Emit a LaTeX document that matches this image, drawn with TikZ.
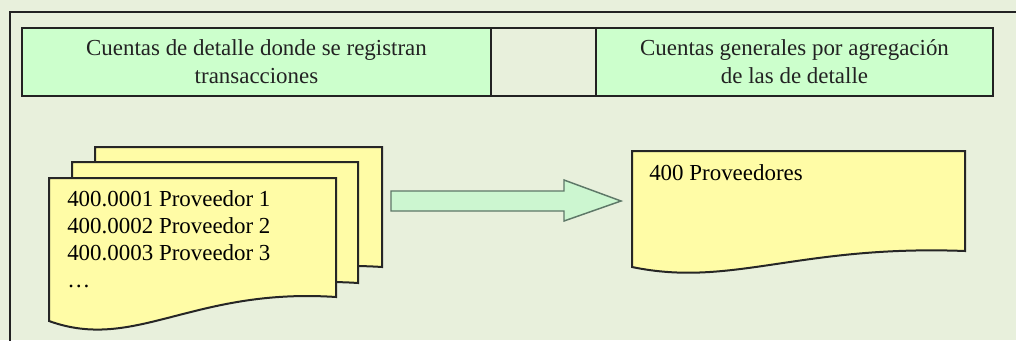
\documentclass[tikz,border=0pt]{standalone}
\usepackage{fontspec}
\setmainfont{Liberation Serif}
\definecolor{bg}{HTML}{E8F0DC}
\definecolor{cellgreen}{HTML}{CCFFCC}
\definecolor{docyellow}{HTML}{FFFCA6}
\definecolor{arrowfill}{HTML}{CCF6D0}
\definecolor{arrowline}{HTML}{5E7868}
\definecolor{ink}{HTML}{222222}
\newcommand\docshape[5]{%
  \filldraw[docstyle] (#1,#2) -- (#3,#2) -- (#3,#4)
    .. controls ({#1+0.5*(#3-#1)},{#4-0.4*#5}) and ({#1+0.3*(#3-#1)},{#4+2.3*#5}) ..
    (#1,{#4+#5}) -- cycle;}
\begin{document}
\begin{tikzpicture}[x=0.75pt,y=-0.75pt,
  frame/.style={draw=ink,line width=1.5pt},
  cell/.style={draw=ink,line width=1.5pt,inner sep=0pt,align=center,text=ink,
    font=\fontsize{17.2}{21}\selectfont,minimum height=68*0.75pt},
  docstyle/.style={fill=docyellow,draw=black!85,line width=1.5pt,line join=miter},
  doctext/.style={anchor=base west,inner sep=0pt,align=left,
    font=\fontsize{17.2}{20.25}\selectfont},
  blockarrow/.style={fill=arrowfill,draw=arrowline,line width=1.1pt,line join=miter}]
\useasboundingbox (0,0) rectangle (1016,340);
\fill[bg] (0,0) rectangle (1016,340);
\draw[frame] (10,350) -- (10,12) -- (1030,12);
% header
\node[cell,fill=cellgreen,minimum width=469*0.75pt] (h1) at (256.5,62)
  {Cuentas de detalle donde se registran\\transacciones};
\node[cell,minimum width=105*0.75pt] (h2) at (543.5,62) {};
\node[cell,fill=cellgreen,minimum width=397*0.75pt] (h3) at (794.5,62)
  {Cuentas generales por agregación\\de las de detalle};
% stacked documents
\docshape{95}{147}{382}{267}{24}
\docshape{72}{162}{358}{283}{24}
\docshape{49}{178}{336}{297}{24}
\node[doctext] (det) at (67,287.5)
  {400.0001 Proveedor 1\\400.0002 Proveedor 2\\400.0003 Proveedor 3\\…};
% block arrow
\draw[blockarrow] (391,191) -- (564,191) -- (564,180) -- (621,201) -- (564,221) -- (564,211) -- (391,211) -- cycle;
% general document
\docshape{632}{151}{965}{251}{16}
\node[doctext] (gen) at (649,180) {400 Proveedores};
\end{tikzpicture}
\end{document}
